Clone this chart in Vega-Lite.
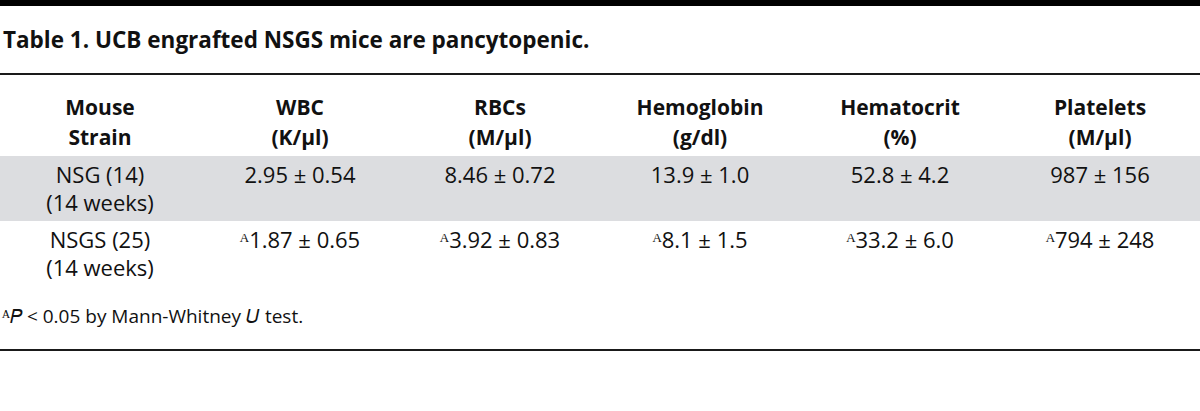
{
  "$schema": "https://vega.github.io/schema/vega-lite/v6.json",
  "width": 1200,
  "height": 411,
  "autosize": {"type": "none"},
  "padding": 0,
  "background": "#ffffff",
  "config": {"view": {"stroke": null}, "font": "Open Sans"},
  "datasets": {
    "caption": [{"part": "title", "text": "Table 1. UCB engrafted NSGS mice are pancytopenic."}],
    "rows": [
      {"row": "header", "shade": false},
      {"row": "NSG", "shade": true},
      {"row": "NSGS", "shade": false}
    ],
    "cells": [
      {"row": "header", "col": "Mouse Strain", "text": "Mouse\nStrain"},
      {"row": "header", "col": "WBC", "text": "WBC\n(K/μl)"},
      {"row": "header", "col": "RBCs", "text": "RBCs\n(M/μl)"},
      {"row": "header", "col": "Hemoglobin", "text": "Hemoglobin\n(g/dl)"},
      {"row": "header", "col": "Hematocrit", "text": "Hematocrit\n(%)"},
      {"row": "header", "col": "Platelets", "text": "Platelets\n(M/μl)"},
      {"row": "NSG", "col": "Mouse Strain", "text": "NSG (14)\n(14 weeks)"},
      {"row": "NSG", "col": "WBC", "text": "2.95 ± 0.54"},
      {"row": "NSG", "col": "RBCs", "text": "8.46 ± 0.72"},
      {"row": "NSG", "col": "Hemoglobin", "text": "13.9 ± 1.0"},
      {"row": "NSG", "col": "Hematocrit", "text": "52.8 ± 4.2"},
      {"row": "NSG", "col": "Platelets", "text": "987 ± 156"},
      {"row": "NSGS", "col": "Mouse Strain", "text": "NSGS (25)\n(14 weeks)"},
      {"row": "NSGS", "col": "WBC", "text": "ᴬ1.87 ± 0.65"},
      {"row": "NSGS", "col": "RBCs", "text": "ᴬ3.92 ± 0.83"},
      {"row": "NSGS", "col": "Hemoglobin", "text": "ᴬ8.1 ± 1.5"},
      {"row": "NSGS", "col": "Hematocrit", "text": "ᴬ33.2 ± 6.0"},
      {"row": "NSGS", "col": "Platelets", "text": "ᴬ794 ± 248"}
    ],
    "note": [{"part": "note", "text": "ᴬ𝑃 < 0.05 by Mann-Whitney 𝑈 test."}]
  },
  "resolve": {"scale": {"x": "independent", "y": "independent"}},
  "layer": [
    {
      "data": {"name": "caption"},
      "layer": [
        {
          "mark": {"type": "rule", "color": "#000000", "strokeWidth": 6},
          "encoding": {
            "y": {"field": "part", "type": "nominal", "bandPosition": 0, "axis": null,
                  "scale": {"type": "band", "domain": ["title"], "range": [3, 74], "paddingInner": 0, "paddingOuter": 0}}
          }
        },
        {
          "mark": {"type": "rule", "color": "#1a1a1a", "strokeWidth": 2},
          "encoding": {
            "y": {"field": "part", "type": "nominal", "bandPosition": 1, "axis": null}
          }
        },
        {
          "mark": {"type": "text", "align": "left", "baseline": "alphabetic", "fontSize": 22.5, "fontWeight": "bold", "color": "#111111"},
          "encoding": {
            "x": {"field": "part", "type": "nominal", "bandPosition": 0, "axis": null,
                  "scale": {"type": "band", "domain": ["title"], "range": [3, 1200], "paddingInner": 0, "paddingOuter": 0}},
            "y": {"field": "part", "type": "nominal", "bandPosition": 0.634, "axis": null},
            "text": {"field": "text"}
          }
        }
      ]
    },
    {
      "layer": [
        {
          "data": {"name": "rows"},
          "transform": [{"filter": "datum.shade"}],
          "mark": {"type": "rect", "color": "#dcdde0"},
          "encoding": {
            "y": {"field": "row", "type": "nominal", "axis": null,
                  "scale": {"type": "band", "domain": ["header", "NSG", "NSGS"], "range": [91, 286], "paddingInner": 0, "paddingOuter": 0}}
          }
        },
        {
          "data": {"name": "cells"},
          "transform": [{"filter": "datum.row === 'header'"}],
          "mark": {"type": "text", "align": "center", "baseline": "alphabetic", "fontSize": 21, "fontWeight": "bold", "lineBreak": "\n", "lineHeight": 30, "color": "#111111"},
          "encoding": {
            "x": {"field": "col", "type": "nominal", "axis": null,
                  "scale": {"type": "point", "domain": ["Mouse Strain", "WBC", "RBCs", "Hemoglobin", "Hematocrit", "Platelets"], "range": [100, 1100], "padding": 0}},
            "y": {"field": "row", "type": "nominal", "bandPosition": 0.37, "axis": null},
            "text": {"field": "text"}
          }
        },
        {
          "data": {"name": "cells"},
          "transform": [{"filter": "datum.row !== 'header'"}],
          "mark": {"type": "text", "align": "center", "baseline": "alphabetic", "fontSize": 22, "lineBreak": "\n", "lineHeight": 28, "color": "#111111"},
          "encoding": {
            "x": {"field": "col", "type": "nominal", "axis": null},
            "y": {"field": "row", "type": "nominal", "bandPosition": 0.42, "axis": null},
            "text": {"field": "text"}
          }
        }
      ]
    },
    {
      "data": {"name": "note"},
      "layer": [
        {
          "mark": {"type": "rule", "color": "#1a1a1a", "strokeWidth": 2},
          "encoding": {
            "y": {"field": "part", "type": "nominal", "bandPosition": 1, "axis": null,
                  "scale": {"type": "band", "domain": ["note"], "range": [286, 350], "paddingInner": 0, "paddingOuter": 0}}
          }
        },
        {
          "mark": {"type": "text", "align": "left", "baseline": "alphabetic", "fontSize": 19, "color": "#111111"},
          "encoding": {
            "x": {"field": "part", "type": "nominal", "bandPosition": 0, "axis": null,
                  "scale": {"type": "band", "domain": ["note"], "range": [2, 1200], "paddingInner": 0, "paddingOuter": 0}},
            "y": {"field": "part", "type": "nominal", "bandPosition": 0.578, "axis": null},
            "text": {"field": "text"}
          }
        }
      ]
    }
  ]
}
